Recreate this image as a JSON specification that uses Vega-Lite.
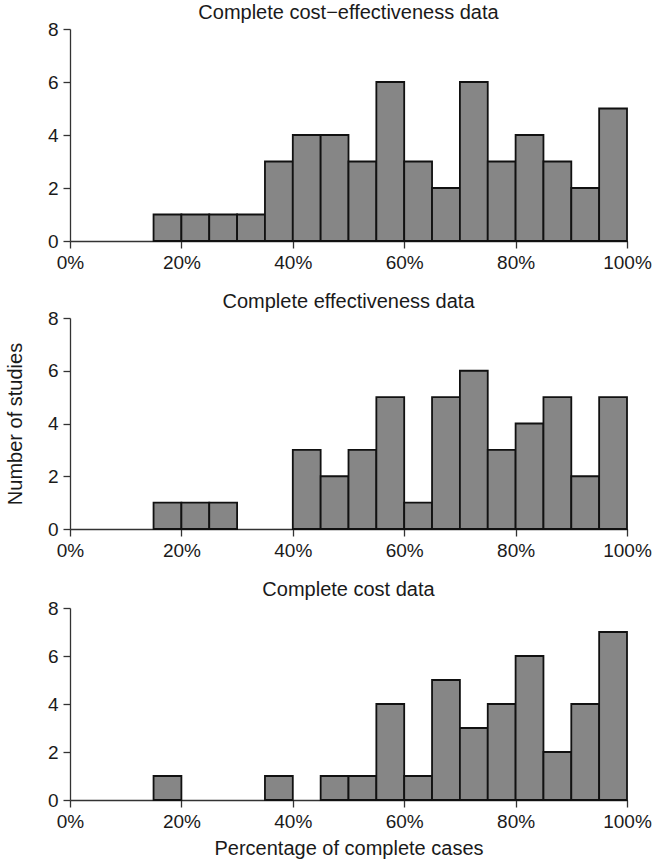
{
  "$schema": "https://vega.github.io/schema/vega-lite/v6.json",
  "padding": {"left": 5, "top": 3, "right": 20, "bottom": 2},
  "background": "white",
  "config": {
    "view": {"stroke": null},
    "font": "Liberation Sans",
    "axis": {"grid": false, "domainColor": "#333", "tickColor": "#333", "labelColor": "#1a1a1a", "titleColor": "#1a1a1a", "labelFontSize": 19, "titleFontSize": 20, "titleFontWeight": "normal", "tickSize": 7, "domainWidth": 1.3, "tickWidth": 1.3, "labelPadding": 5, "labelFlush": false},
    "title": {"fontSize": 20, "fontWeight": "normal", "color": "#1a1a1a", "offset": -3, "baseline": "alphabetic"},
    "concat": {"spacing": 20}
  },
  "data": {"values": [
    {"panel": "ce", "start": 15, "end": 20, "count": 1},
    {"panel": "ce", "start": 20, "end": 25, "count": 1},
    {"panel": "ce", "start": 25, "end": 30, "count": 1},
    {"panel": "ce", "start": 30, "end": 35, "count": 1},
    {"panel": "ce", "start": 35, "end": 40, "count": 3},
    {"panel": "ce", "start": 40, "end": 45, "count": 4},
    {"panel": "ce", "start": 45, "end": 50, "count": 4},
    {"panel": "ce", "start": 50, "end": 55, "count": 3},
    {"panel": "ce", "start": 55, "end": 60, "count": 6},
    {"panel": "ce", "start": 60, "end": 65, "count": 3},
    {"panel": "ce", "start": 65, "end": 70, "count": 2},
    {"panel": "ce", "start": 70, "end": 75, "count": 6},
    {"panel": "ce", "start": 75, "end": 80, "count": 3},
    {"panel": "ce", "start": 80, "end": 85, "count": 4},
    {"panel": "ce", "start": 85, "end": 90, "count": 3},
    {"panel": "ce", "start": 90, "end": 95, "count": 2},
    {"panel": "ce", "start": 95, "end": 100, "count": 5},
    {"panel": "e", "start": 15, "end": 20, "count": 1},
    {"panel": "e", "start": 20, "end": 25, "count": 1},
    {"panel": "e", "start": 25, "end": 30, "count": 1},
    {"panel": "e", "start": 40, "end": 45, "count": 3},
    {"panel": "e", "start": 45, "end": 50, "count": 2},
    {"panel": "e", "start": 50, "end": 55, "count": 3},
    {"panel": "e", "start": 55, "end": 60, "count": 5},
    {"panel": "e", "start": 60, "end": 65, "count": 1},
    {"panel": "e", "start": 65, "end": 70, "count": 5},
    {"panel": "e", "start": 70, "end": 75, "count": 6},
    {"panel": "e", "start": 75, "end": 80, "count": 3},
    {"panel": "e", "start": 80, "end": 85, "count": 4},
    {"panel": "e", "start": 85, "end": 90, "count": 5},
    {"panel": "e", "start": 90, "end": 95, "count": 2},
    {"panel": "e", "start": 95, "end": 100, "count": 5},
    {"panel": "c", "start": 15, "end": 20, "count": 1},
    {"panel": "c", "start": 35, "end": 40, "count": 1},
    {"panel": "c", "start": 45, "end": 50, "count": 1},
    {"panel": "c", "start": 50, "end": 55, "count": 1},
    {"panel": "c", "start": 55, "end": 60, "count": 4},
    {"panel": "c", "start": 60, "end": 65, "count": 1},
    {"panel": "c", "start": 65, "end": 70, "count": 5},
    {"panel": "c", "start": 70, "end": 75, "count": 3},
    {"panel": "c", "start": 75, "end": 80, "count": 4},
    {"panel": "c", "start": 80, "end": 85, "count": 6},
    {"panel": "c", "start": 85, "end": 90, "count": 2},
    {"panel": "c", "start": 90, "end": 95, "count": 4},
    {"panel": "c", "start": 95, "end": 100, "count": 7}
  ]},
  "vconcat": [
    {
      "title": "Complete cost\u2212effectiveness data",
      "width": 557, "height": 212,
      "transform": [{"filter": "datum.panel == 'ce'"}],
      "mark": {"type": "rect", "fill": "#868686", "stroke": "#111", "strokeWidth": 1.8},
      "encoding": {
        "x": {"field": "start", "type": "quantitative", "scale": {"domain": [0, 100], "nice": false}, "axis": {"values": [0, 20, 40, 60, 80, 100], "labelExpr": "datum.value + '%'", "title": null}},
        "x2": {"field": "end"},
        "y": {"field": "count", "type": "quantitative", "scale": {"domain": [0, 8], "nice": false}, "axis": {"values": [0, 2, 4, 6, 8], "title": null}},
        "y2": {"datum": 0}
      }
    },
    {
      "title": "Complete effectiveness data",
      "width": 557, "height": 211,
      "transform": [{"filter": "datum.panel == 'e'"}],
      "mark": {"type": "rect", "fill": "#868686", "stroke": "#111", "strokeWidth": 1.8},
      "encoding": {
        "x": {"field": "start", "type": "quantitative", "scale": {"domain": [0, 100], "nice": false}, "axis": {"values": [0, 20, 40, 60, 80, 100], "labelExpr": "datum.value + '%'", "title": null}},
        "x2": {"field": "end"},
        "y": {"field": "count", "type": "quantitative", "scale": {"domain": [0, 8], "nice": false}, "axis": {"values": [0, 2, 4, 6, 8], "title": "Number of studies", "titlePadding": 22}},
        "y2": {"datum": 0}
      }
    },
    {
      "title": {"text": "Complete cost data", "offset": -1},
      "width": 557, "height": 192,
      "transform": [{"filter": "datum.panel == 'c'"}],
      "mark": {"type": "rect", "fill": "#868686", "stroke": "#111", "strokeWidth": 1.8},
      "encoding": {
        "x": {"field": "start", "type": "quantitative", "scale": {"domain": [0, 100], "nice": false}, "axis": {"values": [0, 20, 40, 60, 80, 100], "labelExpr": "datum.value + '%'", "title": "Percentage of complete cases", "titlePadding": 7}},
        "x2": {"field": "end"},
        "y": {"field": "count", "type": "quantitative", "scale": {"domain": [0, 8], "nice": false}, "axis": {"values": [0, 2, 4, 6, 8], "title": null}},
        "y2": {"datum": 0}
      }
    }
  ]
}
